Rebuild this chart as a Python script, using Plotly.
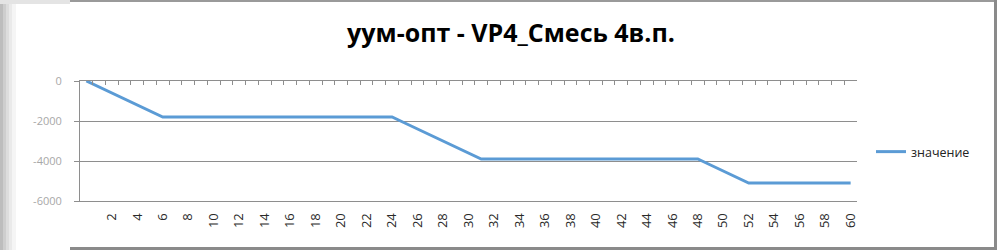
import plotly.graph_objects as go

# ---- data ----
categories = list(range(0, 61))
values = [0, -300, -600, -900, -1200, -1500, -1800,
          -1800, -1800, -1800, -1800, -1800, -1800, -1800, -1800, -1800,
          -1800, -1800, -1800, -1800, -1800, -1800, -1800, -1800, -1800,
          -2100, -2400, -2700, -3000, -3300, -3600, -3900,
          -3900, -3900, -3900, -3900, -3900, -3900, -3900, -3900, -3900,
          -3900, -3900, -3900, -3900, -3900, -3900, -3900, -3900,
          -4200, -4500, -4800, -5100,
          -5100, -5100, -5100, -5100, -5100, -5100, -5100, -5100]
x_tick_vals = [2, 4, 6, 8, 10, 12, 14, 16, 18, 20, 22, 24, 26, 28, 30,
               32, 34, 36, 38, 40, 42, 44, 46, 48, 50, 52, 54, 56, 58, 60]
x_tick_text = ["2", "4", "6", "8", "10", "12", "14", "16", "18", "20", "22", "24", "26", "28", "30",
               "32", "34", "36", "38", "40", "42", "44", "46", "48", "50", "52", "54", "56", "58", "60"]
y_tick_vals = [0, -2000, -4000, -6000]
y_tick_text = ["0", "-2000", "-4000", "-6000"]
series_name = "значение"
title_text = "уум-опт - VP4_Смесь 4в.п."

W, H = 997, 250
ML, MR, MT, MB = 80, 140, 81, 49
PW = W - ML - MR
PH = H - MT - MB

def px(x):
    return (x - ML) / PW

def py(y):
    return (H - MB - y) / PH

GRID = "#8e8e8e"
FONT = "Open Sans"

fig = go.Figure()
fig.add_trace(go.Scatter(
    x=categories, y=values, mode="lines", name=series_name,
    line=dict(color="#5b9bd5", width=3),
))
# invisible helper trace for the top axis
fig.add_trace(go.Scatter(
    x=[categories[0]], y=[values[0]], xaxis="x2", mode="markers",
    marker=dict(opacity=0), showlegend=False, hoverinfo="skip",
))

boundaries = [c - 0.5 for c in categories] + [categories[-1] + 0.5]

shapes = []
# left shadow gradient
strips = [(0, 3, "#bdbdbd"), (3, 6, "#cecece"), (6, 9, "#dddddd"), (9, 12, "#eaeaea"), (12, 16, "#f5f5f5")]
for a, b, c in strips:
    shapes.append(dict(type="rect", xref="paper", yref="paper", x0=px(a), x1=px(b),
                       y0=py(H), y1=py(0), fillcolor=c, line=dict(width=0), layer="below"))
shapes.append(dict(type="rect", xref="paper", yref="paper", x0=px(0), x1=px(70),
                   y0=py(4), y1=py(0), fillcolor="#e4e4e4", line=dict(width=0), layer="below"))
# frame borders
shapes.append(dict(type="rect", xref="paper", yref="paper", x0=px(70), x1=px(W),
                   y0=py(2), y1=py(0), fillcolor="#9a9a9a", line=dict(width=0)))
shapes.append(dict(type="rect", xref="paper", yref="paper", x0=px(994), x1=px(W),
                   y0=py(H), y1=py(0), fillcolor="#8a8a8a", line=dict(width=0)))
shapes.append(dict(type="rect", xref="paper", yref="paper", x0=px(70), x1=px(W),
                   y0=py(H), y1=py(247), fillcolor="#8a8a8a", line=dict(width=0)))

fig.update_layout(
    width=W, height=H,
    margin=dict(l=ML, r=MR, t=MT, b=MB),
    paper_bgcolor="white", plot_bgcolor="white",
    font=dict(family=FONT, color="#333333"),
    title=dict(text="<b>" + title_text + "</b>", x=px(511), xref="paper", xanchor="center",
               y=1 - 33 / H, yref="container", yanchor="middle",
               font=dict(family=FONT, size=25, color="#000000")),
    showlegend=True,
    legend=dict(x=px(871), xanchor="left", y=py(152), yanchor="middle",
                font=dict(family=FONT, size=12.5, color="#222222"),
                bgcolor="rgba(0,0,0,0)"),
    xaxis=dict(range=[-0.5, 60.5], tickmode="array", tickvals=x_tick_vals, ticktext=x_tick_text,
               tickangle=-90, showgrid=False, zeroline=False, showline=True, linecolor=GRID,
               ticks="", ticklabelstandoff=6,
               tickfont=dict(family=FONT, size=13, color="#2a2a2a")),
    xaxis2=dict(overlaying="x", matches="x", side="top", anchor="y", tickmode="array",
                tickvals=boundaries, ticks="inside", ticklen=4, tickcolor=GRID, tickwidth=1,
                showticklabels=False, showline=True, linecolor=GRID, showgrid=False,
                zeroline=False),
    yaxis=dict(range=[-6000, 0], tickmode="array", tickvals=y_tick_vals, ticktext=y_tick_text,
               showgrid=True, gridcolor=GRID, zeroline=False, showline=True, linecolor=GRID,
               ticks="outside", ticklen=5, tickcolor=GRID, ticklabelstandoff=10,
               tickfont=dict(family=FONT, size=11, color="#a8a8a8")),
    shapes=shapes,
)

fig.write_html("out.html")
